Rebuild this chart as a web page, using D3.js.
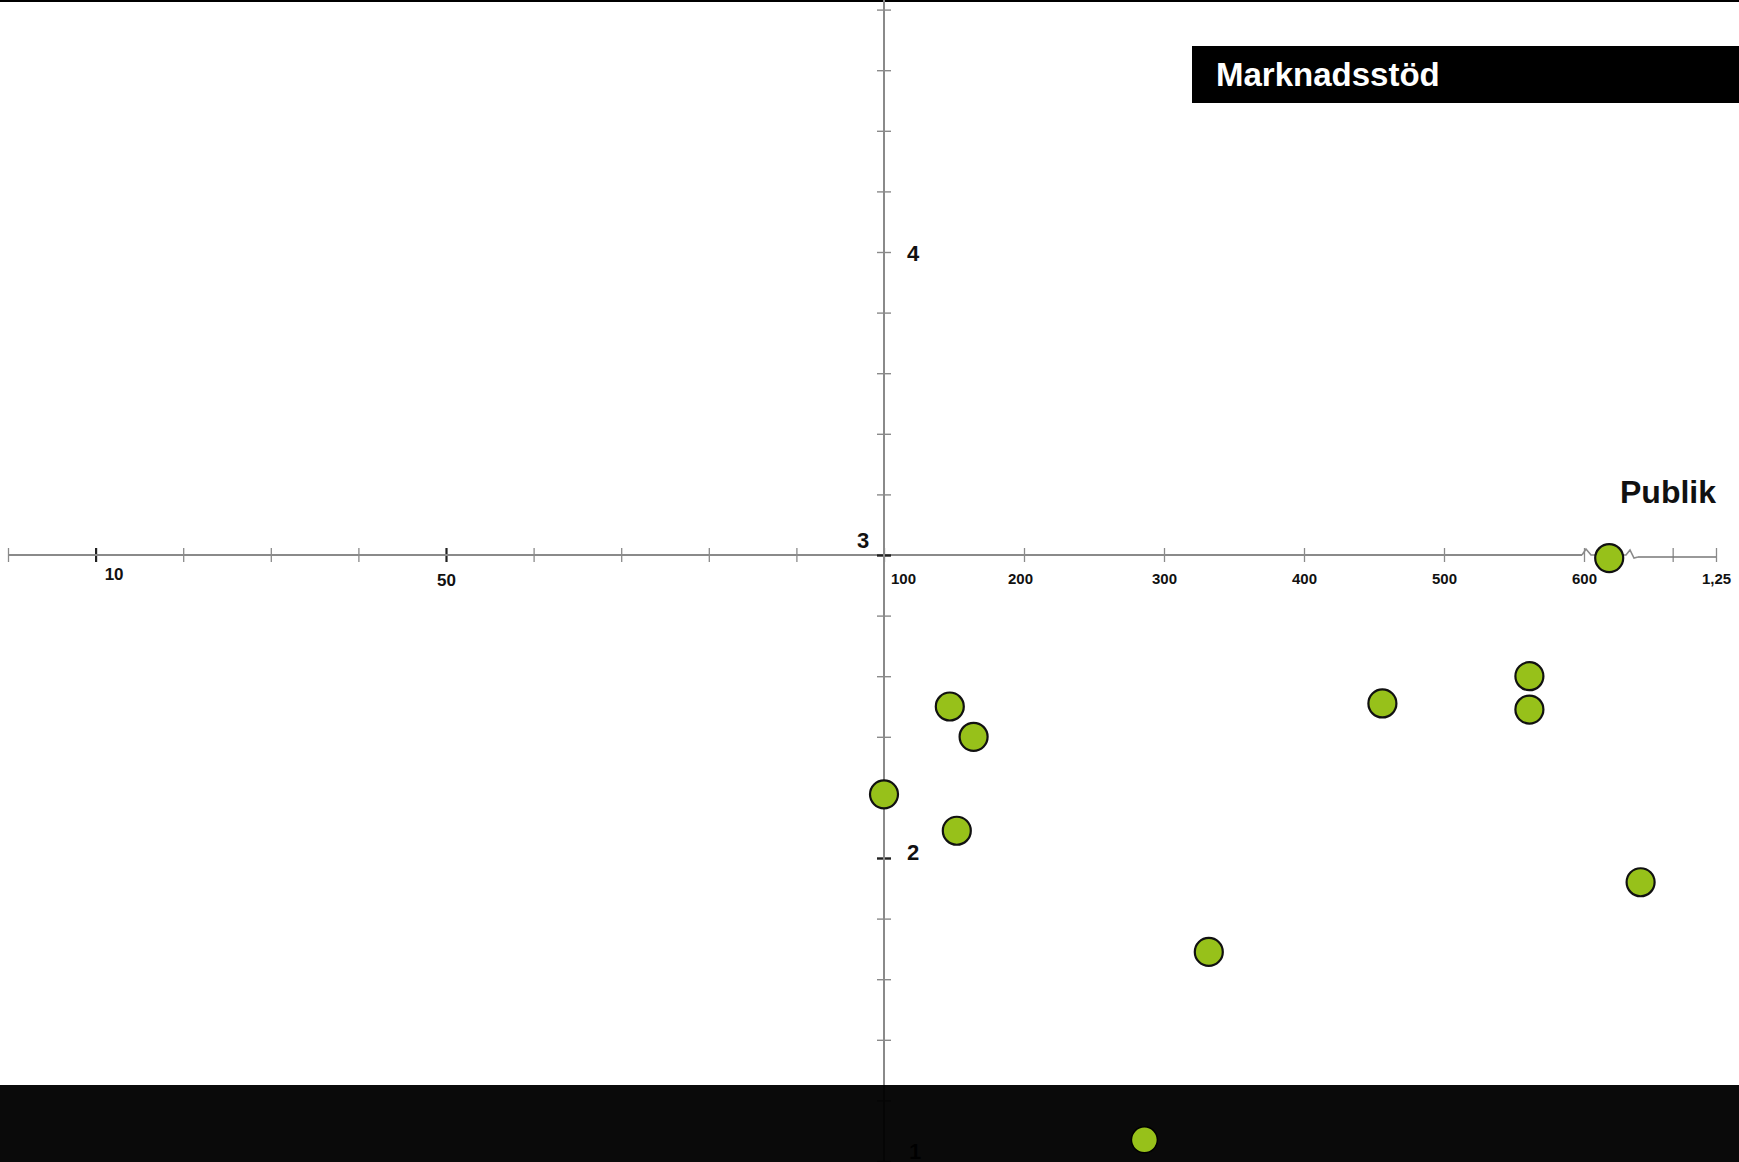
<!DOCTYPE html>
<html>
<head>
<meta charset="utf-8">
<script src="https://cdn.jsdelivr.net/npm/d3@7"></script>
<style>
  html, body { margin: 0; padding: 0; background: #fff; }
  svg { display: block; }
  text { font-family: "Liberation Sans", Arial, Helvetica, sans-serif; font-weight: bold; }
</style>
</head>
<body>
<svg id="chart" width="1739" height="1162"></svg>
<script>
// ---- data ----
const publik = [147, 164, 100, 152, 456, 561, 561, 618, 1163, 332, 286];       // x (tusental)
const marknadsstod = [2.50, 2.40, 2.21, 2.09, 2.51, 2.60, 2.49, 2.99, 1.92, 1.69, 1.07]; // y

const xTickValues = [0, 10, 20, 30, 40, 50, 60, 70, 80, 90, 100, 200, 300, 400, 500, 600, 1200, 1250];
const xMajorTicks = [10, 50];
const xTickLabels = { 10: "10", 50: "50", 100: "100", 200: "200", 300: "300", 400: "400", 500: "500", 600: "600", 1250: "1,25" };
const yTickValues = [1.0, 1.2, 1.4, 1.6, 1.8, 2.0, 2.2, 2.4, 2.6, 2.8, 3.0, 3.2, 3.4, 3.6, 3.8, 4.0, 4.2, 4.4, 4.6, 4.8];
const yTickLabels = { 1: "1", 2: "2", 3: "3", 4: "4" };
const yAxisTitle = "Marknadsstöd";
const xAxisTitle = "Publik";

// ---- layout ----
const W = 1739, H = 1162;
const svg = d3.select("#chart");

// piecewise (broken) x scale
const x = d3.scaleLinear()
  .domain([0, 100, 620, 1160, 1250])
  .range([8, 884, 1612, 1638, 1716]);
const y = d3.scaleLinear().domain([1, 5]).range([1161, -51]);

const axisColor = "#8a8a8a";
const originX = x(100), originY = y(3);

// top rule
svg.append("rect").attr("x", 0).attr("y", 0).attr("width", W).attr("height", 2).attr("fill", "#000");

// ---- x axis ----
const gx = svg.append("g").attr("transform", `translate(0,${originY})`);
const xAxis = d3.axisBottom(x).tickValues(xTickValues).tickSize(7).tickSizeOuter(0)
  .tickFormat(d => xTickLabels[d] || "");
gx.call(xAxis);
gx.select(".domain").remove();
gx.selectAll(".tick line")
  .attr("y1", -7).attr("y2", 7)
  .attr("stroke", d => xMajorTicks.includes(d) ? "#222" : axisColor)
  .attr("stroke-width", d => xMajorTicks.includes(d) ? 2.2 : 1.3);
gx.selectAll(".tick text")
  .attr("fill", "#111")
  .style("font-size", d => (d === 10 || d === 50) ? "17px" : "15px")
  .attr("y", 0)
  .attr("dy", d => d === 50 ? 31 : (d === 10 ? 25 : 29))
  .attr("dx", d => d === 10 ? 18 : (d === 100 ? 19 : (d === 200 ? -4 : 0)));

// axis line with break
gx.append("line").attr("x1", 8).attr("x2", 1582).attr("y1", 0).attr("y2", 0)
  .attr("stroke", axisColor).attr("stroke-width", 2);
gx.append("path")
  .attr("d", "M1582,0 L1586,-6 L1591,0 L1604,0 M1614,0 L1626,0 L1630,-5 L1634,3 L1638,2")
  .attr("fill", "none").attr("stroke", axisColor).attr("stroke-width", 1.6);
gx.append("line").attr("x1", 1638).attr("x2", 1716).attr("y1", 2).attr("y2", 2)
  .attr("stroke", "#777").attr("stroke-width", 1.4);

// ---- y axis ----
const gy = svg.append("g").attr("transform", `translate(${originX},0)`);
const yAxis = d3.axisRight(y).tickValues(yTickValues).tickSize(7).tickSizeOuter(0)
  .tickFormat(d => yTickLabels[Math.round(d * 10) / 10] || "");
gy.call(yAxis);
gy.select(".domain").remove();
gy.append("line").attr("x1", 0).attr("x2", 0).attr("y1", 0).attr("y2", H)
  .attr("stroke", axisColor).attr("stroke-width", 2);
gy.selectAll(".tick line")
  .attr("x1", -7).attr("x2", 7)
  .attr("stroke", d => (Math.abs(d - 2) < 1e-6 || Math.abs(d - 3) < 1e-6) ? "#222" : axisColor)
  .attr("stroke-width", d => (Math.abs(d - 2) < 1e-6 || Math.abs(d - 3) < 1e-6) ? 2.4 : 1.4);
gy.selectAll(".tick text")
  .attr("fill", "#111")
  .style("font-size", "22px")
  .attr("text-anchor", "start")
  .attr("x", d => Math.abs(d - 3) < 1e-6 ? -27 : (Math.abs(d - 1) < 1e-6 ? 25 : 23))
  .attr("dy", d => Math.abs(d - 3) < 1e-6 ? -8 : (Math.abs(d - 2) < 1e-6 ? 1 : (Math.abs(d - 1) < 1e-6 ? -3 : 8)));

// axis titles
svg.append("text").attr("x", 1716).attr("y", 503).attr("text-anchor", "end")
  .style("font-size", "32px").attr("fill", "#111").text(xAxisTitle);

svg.append("rect").attr("x", 1192).attr("y", 46).attr("width", W - 1192).attr("height", 57).attr("fill", "#000");
svg.append("text").attr("x", 1216).attr("y", 86)
  .style("font-size", "33px").attr("fill", "#fff").text(yAxisTitle);

// ---- points (above the band) ----
const pts = publik.map((v, i) => ({ px: v, py: marknadsstod[i] }));
svg.append("g").selectAll("circle")
  .data(pts.filter(d => y(d.py) < 1085))
  .join("circle")
  .attr("cx", d => x(d.px)).attr("cy", d => y(d.py)).attr("r", 14)
  .attr("fill", "#97c11a").attr("stroke", "#111").attr("stroke-width", 2.2);

// bottom band
svg.append("rect").attr("x", 0).attr("y", 1085).attr("width", W).attr("height", H - 1085)
  .attr("fill", "#000").attr("opacity", 0.96);

svg.append("g").selectAll("circle")
  .data(pts.filter(d => y(d.py) >= 1085))
  .join("circle")
  .attr("cx", d => x(d.px)).attr("cy", d => y(d.py)).attr("r", 13)
  .attr("fill", "#97c11a").attr("stroke", "#000").attr("stroke-width", 1.5);
</script>
</body>
</html>
